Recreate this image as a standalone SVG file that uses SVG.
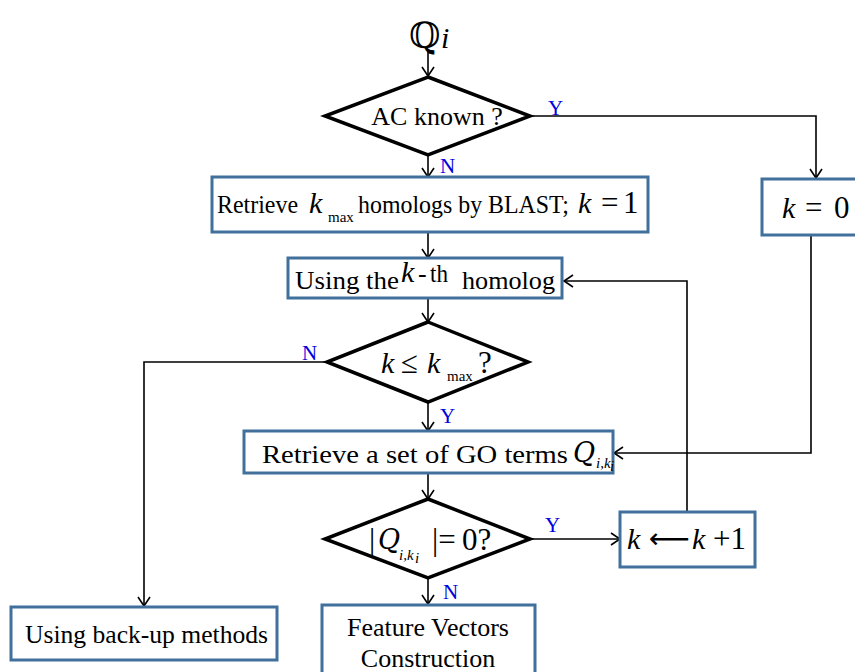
<svg xmlns="http://www.w3.org/2000/svg" width="855" height="672" viewBox="0 0 855 672">
<defs>
<marker id="arr" markerUnits="userSpaceOnUse" markerWidth="12" markerHeight="14" refX="10" refY="7" orient="auto">
<path d="M1,1 L10,7 L1,13" fill="none" stroke="#000" stroke-width="1.6"/>
</marker>
<style>
.box{fill:#fff;stroke:#41709c;stroke-width:3}
.dia{fill:#fff;stroke:#000;stroke-width:3.5;stroke-linejoin:miter}
.con{fill:none;stroke:#000;stroke-width:1.6}
.t{font-family:"Liberation Serif","Times New Roman",serif;font-size:26px;fill:#000}
.m{font-family:"Liberation Serif","Times New Roman",serif;font-style:italic;font-size:30px;fill:#000}
.n{font-family:"Liberation Serif","Times New Roman",serif;font-size:31px;fill:#000}
.s{font-family:"Liberation Serif","Times New Roman",serif;font-size:15px;fill:#000}
.q{font-family:"DejaVu Serif",serif;font-style:italic;font-size:27px;fill:#000}
.lb{font-family:"Liberation Serif","Times New Roman",serif;font-size:21px;fill:#0000e0}
</style>
</defs>
<rect width="855" height="672" fill="#fff"/>

<g id="connectors">
<line class="con" x1="428" y1="51" x2="428" y2="76" marker-end="url(#arr)"/>
<line class="con" x1="428" y1="155" x2="428" y2="177" marker-end="url(#arr)"/>
<polyline class="con" points="530,116 816,116 816,178" marker-end="url(#arr)"/>
<line class="con" x1="428" y1="232" x2="428" y2="258" marker-end="url(#arr)"/>
<line class="con" x1="428" y1="298" x2="428" y2="322" marker-end="url(#arr)"/>
<line class="con" x1="428" y1="402" x2="428" y2="431" marker-end="url(#arr)"/>
<polyline class="con" points="327,362 144,362 144,606" marker-end="url(#arr)"/>
<polyline class="con" points="811,235 811,453 614,453" marker-end="url(#arr)"/>
<line class="con" x1="428" y1="473" x2="428" y2="499" marker-end="url(#arr)"/>
<line class="con" x1="530" y1="539" x2="620" y2="539" marker-end="url(#arr)"/>
<line class="con" x1="428" y1="578" x2="428" y2="604" marker-end="url(#arr)"/>
<polyline class="con" points="687,512 687,281 564,281" marker-end="url(#arr)"/>
</g>

<g id="labels">
<text class="lb" x="548" y="115">Y</text>
<text class="lb" x="440" y="173">N</text>
<text class="lb" x="302" y="360">N</text>
<text class="lb" x="440" y="423">Y</text>
<text class="lb" x="545" y="532">Y</text>
<text class="lb" x="443" y="599">N</text>
</g>

<g id="start">
<text x="409" y="48" font-family="DejaVu Serif, serif" font-size="36px">ℚ</text>
<text class="m" x="441" y="48">i</text>
</g>

<g id="ac-known">
<polygon class="dia" points="428,77 530,116 428,155 325,116"/>
<text class="t" x="437" y="125" text-anchor="middle">AC known ?</text>
</g>

<g id="retrieve-homologs">
<rect class="box" x="212" y="177" width="436" height="55"/>
<text class="t" x="217" y="213" font-size="24px" textLength="81" lengthAdjust="spacingAndGlyphs">Retrieve</text>
<text class="m" x="309" y="213">k</text>
<text class="s" x="328" y="222">max</text>
<text class="t" x="358" y="213" font-size="22.5px" textLength="211" lengthAdjust="spacingAndGlyphs">homologs by BLAST;</text>
<text class="m" x="578" y="213">k</text>
<text class="n" x="601" y="213">=</text>
<text class="n" x="623" y="213">1</text>
</g>

<g id="k-zero">
<rect class="box" x="762" y="179" width="100" height="56"/>
<text class="m" x="782" y="218" font-size="32px">k</text>
<text class="n" x="805" y="218" font-size="32px">=</text>
<text class="n" x="834" y="218" font-size="32px">0</text>
</g>

<g id="using-kth">
<rect class="box" x="288" y="258" width="274" height="40"/>
<text class="t" x="295" y="289" textLength="104" lengthAdjust="spacingAndGlyphs">Using the</text>
<text class="m" x="401" y="282" font-size="24px">k</text>
<text class="t" x="418" y="282" font-size="22px">-</text>
<text class="t" x="430" y="282" font-size="22px" textLength="18" lengthAdjust="spacingAndGlyphs">th</text>
<text class="t" x="462" y="289" textLength="93" lengthAdjust="spacingAndGlyphs">homolog</text>
</g>

<g id="k-le-kmax">
<polygon class="dia" points="428,322 528,362 428,402 327,362"/>
<text class="m" x="381" y="373">k</text>
<text class="n" x="401" y="373" font-size="28px">≤</text>
<text class="m" x="427" y="373">k</text>
<text class="s" x="447" y="381">max</text>
<text class="n" x="478" y="373" font-size="28px">?</text>
</g>

<g id="retrieve-go">
<rect class="box" x="244" y="431" width="369" height="42"/>
<text class="t" x="262" y="463" textLength="306" lengthAdjust="spacingAndGlyphs">Retrieve a set of GO terms</text>
<text class="q" x="573" y="462">Q</text>
<text class="s" x="596" y="468" font-style="italic" font-size="14px">i,k</text>
<text class="s" x="610" y="471" font-style="italic" font-size="9px">i</text>
</g>

<g id="empty-check">
<polygon class="dia" points="428,499 530,539 428,578 325,539"/>
<text class="n" x="369" y="550">|</text>
<text class="q" x="378" y="549">Q</text>
<text class="s" x="399" y="560" font-style="italic">i,k</text>
<text class="s" x="415" y="563" font-style="italic" font-size="10px">i</text>
<text class="n" x="432" y="550">|=</text>
<text class="n" x="462" y="550">0?</text>
</g>

<g id="k-increment">
<rect class="box" x="620" y="512" width="135" height="55"/>
<text class="m" x="627" y="549">k</text>
<text x="649" y="548" font-family="DejaVu Sans, sans-serif" font-size="28px" textLength="41" lengthAdjust="spacingAndGlyphs">⟵</text>
<text class="m" x="692" y="549">k</text>
<text class="n" x="713" y="549">+1</text>
</g>

<g id="backup">
<rect class="box" x="11" y="607" width="266" height="53"/>
<text class="t" x="25" y="643" textLength="243" lengthAdjust="spacingAndGlyphs">Using back-up methods</text>
</g>

<g id="feature-vectors">
<rect class="box" x="322" y="605" width="213" height="80"/>
<text class="t" x="428" y="636" text-anchor="middle">Feature Vectors</text>
<text class="t" x="428" y="667" text-anchor="middle">Construction</text>
</g>
</svg>
